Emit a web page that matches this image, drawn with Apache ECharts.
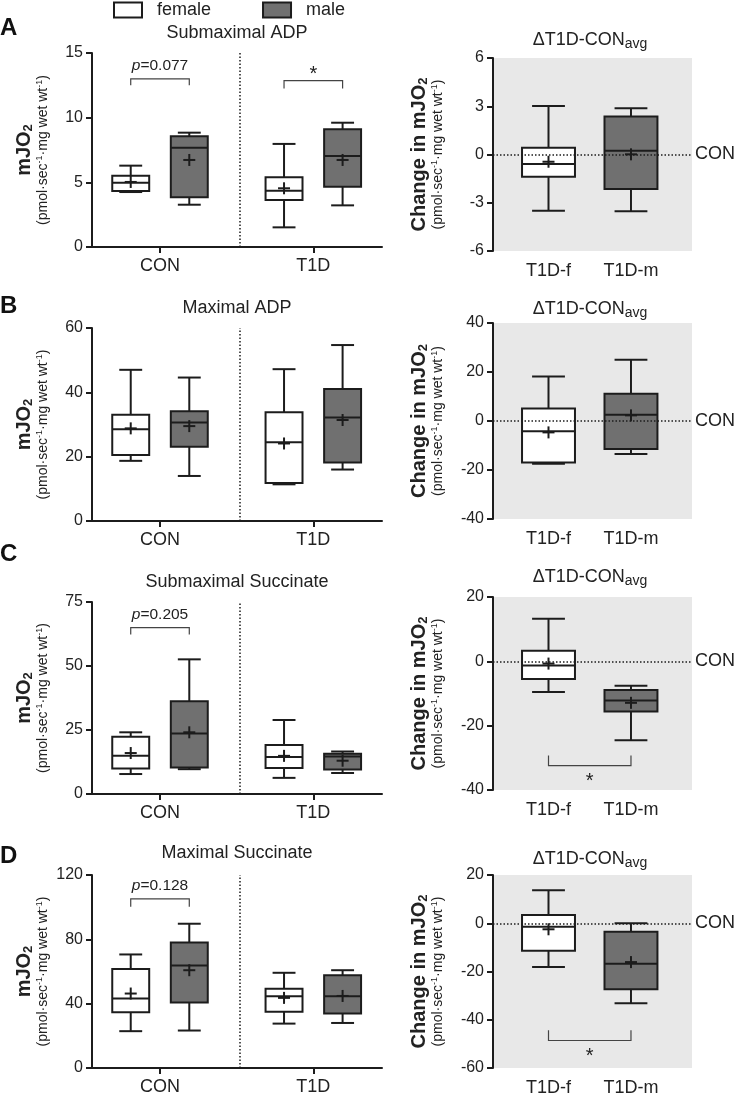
<!DOCTYPE html>
<html><head><meta charset="utf-8">
<script src="https://cdn.jsdelivr.net/npm/echarts@6/dist/echarts.min.js"></script>
<style>html,body{margin:0;padding:0;background:#fff}#c{width:738px;height:1101px}</style>
</head><body><div id="c"></div>
<script>
// ---------- data ----------
const groupLabels = ['CON', 'T1D'];
const deltaLabels = ['T1D-f', 'T1D-m'];
const panelTitles = ['Submaximal ADP', 'Maximal ADP', 'Submaximal Succinate', 'Maximal Succinate'];
const panelLetters = ['A', 'B', 'C', 'D'];
// each box: [low whisker, Q1, median, Q3, high whisker, mean]
const subAdpFemale = [[4.25, 4.33, 4.97, 5.51, 6.29, 5.03], [1.52, 3.63, 4.35, 5.39, 7.97, 4.54]];
const subAdpMale   = [[3.27, 3.84, 7.68, 8.56, 8.84, 6.73], [3.22, 4.66, 7.04, 9.10, 9.61, 6.73]];
const subAdpDeltaF = [-3.49, -1.38, -0.59, 0.42, 3.02, -0.45];
const subAdpDeltaM = [-3.53, -2.15, 0.24, 2.37, 2.87, 0.01];

const maxAdpFemale = [[18.7, 20.5, 28.5, 33.0, 47.0, 28.8], [11.4, 11.85, 24.5, 33.8, 47.2, 24.1]];
const maxAdpMale   = [[14.0, 23.1, 30.6, 34.1, 44.6, 29.5], [16.0, 18.2, 32.2, 41.0, 54.7, 31.4]];
const maxAdpDeltaF = [-17.4, -16.9, -4.2, 5.1, 18.2, -4.65];
const maxAdpDeltaM = [-13.5, -11.4, 2.6, 11.1, 25.0, 2.3];

const subSucFemale = [[7.8, 10.0, 14.9, 22.4, 24.1, 16.0], [6.3, 10.2, 14.5, 19.1, 28.9, 14.9]];
const subSucMale   = [[9.7, 10.4, 23.6, 36.2, 52.6, 24.1], [8.2, 9.6, 14.6, 15.7, 16.6, 13.0]];
const subSucDeltaF = [-9.5, -5.5, -1.3, 3.3, 13.2, -0.7];
const subSucDeltaM = [-24.5, -15.6, -12.2, -8.9, -7.6, -12.9];

const maxSucFemale = [[22.9, 34.7, 43.2, 61.5, 70.6, 46.3], [27.6, 34.9, 44.6, 49.2, 59.2, 43.6]];
const maxSucMale   = [[23.3, 40.7, 63.8, 78.1, 89.7, 60.8], [28.0, 33.9, 44.6, 57.7, 60.8, 44.8]];
const maxSucDeltaF = [-18.1, -11.4, -1.5, 3.4, 13.7, -2.5];
const maxSucDeltaM = [-33.2, -27.4, -16.8, -3.5, 0.0, -16.1];

// y axis ranges: [min, max, step]
const leftYRange  = [[0, 15, 5], [0, 60, 20], [0, 75, 25], [0, 120, 40]];
const rightYRange = [[-6, 6, 3], [-40, 40, 20], [-40, 20, 20], [-60, 20, 20]];
// significance brackets: [grid index, category (0 = across both deltas), bracket level, tip level]
const sigBrackets = [[0, 1, 13.0, 12.5], [0, 2, 12.87, 12.25], [4, 1, 65.0, 62.3], [6, 1, 105.1, 100.3], [5, 0, -32.4, -29.3], [7, 0, -48.6, -44.4]];
const sigLabels = ['p=0.077', '*', 'p=0.205', 'p=0.128', '*', '*'];

// ---------- styling / layout ----------
const FONT = "'Liberation Sans', Arial, Helvetica, sans-serif";
const INK = '#1c1c1c';
const TXT = '#222';
const MALE = '#707070';
const BG = '#e8e8e8';
const femaleSets = [subAdpFemale, maxAdpFemale, subSucFemale, maxSucFemale];
const maleSets = [subAdpMale, maxAdpMale, subSucMale, maxSucMale];
const deltaF = [subAdpDeltaF, maxAdpDeltaF, subSucDeltaF, maxSucDeltaF];
const deltaM = [subAdpDeltaM, maxAdpDeltaM, subSucDeltaM, maxSucDeltaM];
const leftGridPos = [[53, 194], [328, 193], [602, 192], [875, 193]];
const rightGridPos = [[58, 193], [323, 196], [597, 193], [875, 193]];
const letterY = [28, 306, 554, 856];
const titleY = [33, 308, 582, 853];
const rTitleY = [40, 309, 577, 859];

const nameRich = {
  b: {fontSize: 20, fontWeight: 'bold', lineHeight: 22, color: TXT, fontFamily: FONT},
  bs: {fontSize: 13, fontWeight: 'bold', lineHeight: 14, verticalAlign: 'bottom', color: TXT, fontFamily: FONT},
  s: {fontSize: 14, lineHeight: 17, color: TXT, fontFamily: FONT},
  ss: {fontSize: 9, lineHeight: 9, verticalAlign: 'top', color: TXT, fontFamily: FONT}
};
const subLine = '{s|(pmol·sec}{ss|-1}{s|·mg wet wt}{ss|-1}{s|)}';

function boxRenderer(offset, width) {
  return function (params, api) {
    const x = api.value(0) + offset;
    const pt = k => api.coord([x, api.value(k)]);
    const lo = pt(1), q1 = pt(2), md = pt(3), q3 = pt(4), hi = pt(5), mn = pt(6);
    const w = api.size([width, 0])[0];
    const cx = lo[0];
    const cap = w * 0.62;
    const cs = 6;
    const ln = (x1, y1, x2, y2) => ({type: 'line', shape: {x1, y1, x2, y2}, style: {stroke: INK, lineWidth: 2}});
    return {type: 'group', children: [
      ln(cx, hi[1], cx, lo[1]),
      ln(cx - cap / 2, hi[1], cx + cap / 2, hi[1]),
      ln(cx - cap / 2, lo[1], cx + cap / 2, lo[1]),
      {type: 'rect', shape: {x: cx - w / 2, y: q3[1], width: w, height: q1[1] - q3[1]}, style: {fill: api.visual('color'), stroke: INK, lineWidth: 2}},
      ln(cx - w / 2, md[1], cx + w / 2, md[1]),
      ln(cx - cs, mn[1], cx + cs, mn[1]),
      ln(cx, mn[1] - cs, cx, mn[1] + cs)
    ]};
  };
}

function bracketRenderer(labels) {
  return function (params, api) {
    const cat = api.value(0);
    let xa, xb, dir;
    if (cat === 0) { xa = 1; xb = 2; dir = 1; } else { xa = cat - 0.191; xb = cat + 0.191; dir = -1; }
    const a = api.coord([xa, api.value(1)]);
    const b = api.coord([xb, api.value(1)]);
    const ta = api.coord([xa, api.value(2)]);
    const lbl = labels[params.dataIndex];
    const isStar = lbl === '*';
    const text = isStar ? lbl : '{i|p}{n|' + lbl.slice(1) + '}';
    const ty = dir < 0 ? a[1] - (isStar ? 6 : 13) : a[1] + (isStar ? 16 : 13);
    return {type: 'group', children: [
      {type: 'polyline', shape: {points: [[a[0], ta[1]], [a[0], a[1]], [b[0], b[1]], [b[0], ta[1]]]}, style: {stroke: '#444', lineWidth: 1.2, fill: null}},
      {type: 'text', x: (a[0] + b[0]) / 2, y: ty, style: {text: text, fill: TXT, align: 'center', verticalAlign: 'middle', fontFamily: FONT, fontSize: isStar ? 20 : 15.5,
        rich: {i: {fontStyle: 'italic', fontSize: 15.5, fontFamily: FONT, fill: TXT}, n: {fontSize: 15.5, fontFamily: FONT, fill: TXT}}}}
    ]};
  };
}

const grids = [], xAxes = [], yAxes = [], series = [], graphics = [];
for (let p = 0; p < 4; p++) {
  const gl = 2 * p, gr = 2 * p + 1;
  grids.push({left: 92, width: 290, top: leftGridPos[p][0], height: leftGridPos[p][1]});
  grids.push({left: 493, width: 199, top: rightGridPos[p][0], height: rightGridPos[p][1], show: true, backgroundColor: BG, borderWidth: 0});
  xAxes.push({gridIndex: gl, type: 'value', min: 0.5564, max: 2.448,
    axisLine: {show: true, onZero: false, lineStyle: {color: INK, width: 2}},
    axisTick: {show: true, customValues: [1, 2], length: 6, lineStyle: {color: INK, width: 2}},
    axisLabel: {show: true, customValues: [1, 2], formatter: v => groupLabels[Math.round(v) - 1], fontSize: 18, color: TXT, margin: 10, fontFamily: FONT},
    splitLine: {show: false}});
  xAxes.push({gridIndex: gr, type: 'value', min: 0.327, max: 2.74,
    axisLine: {show: false}, axisTick: {show: false},
    axisLabel: {show: true, customValues: [1, 2], formatter: v => deltaLabels[Math.round(v) - 1], fontSize: 18, color: TXT, margin: 11, fontFamily: FONT},
    splitLine: {show: false}});
  const ly = leftYRange[p], ry = rightYRange[p];
  yAxes.push({gridIndex: gl, type: 'value', min: ly[0], max: ly[1], interval: ly[2],
    axisLine: {show: true, onZero: false, lineStyle: {color: INK, width: 2}},
    axisTick: {show: true, length: 6, lineStyle: {color: INK, width: 2}},
    axisLabel: {fontSize: 16, color: TXT, margin: 9, fontFamily: FONT},
    splitLine: {show: false},
    name: '{b|mJO}{bs|2}\n' + subLine, nameLocation: 'middle', nameRotate: 90, nameGap: 40,
    nameTextStyle: {rich: nameRich}});
  yAxes.push({gridIndex: gr, type: 'value', min: ry[0], max: ry[1], interval: ry[2],
    axisLine: {show: true, onZero: false, lineStyle: {color: INK, width: 2}},
    axisTick: {show: true, length: 6, lineStyle: {color: INK, width: 2}},
    axisLabel: {fontSize: 16, color: TXT, margin: 9, fontFamily: FONT},
    splitLine: {show: false},
    name: '{b|Change in mJO}{bs|2}\n' + subLine, nameLocation: 'middle', nameRotate: 90, nameGap: 46,
    nameTextStyle: {rich: nameRich}});

  const enc = {x: 0, y: [1, 2, 3, 4, 5, 6]};
  series.push({type: 'custom', name: 'female', xAxisIndex: gl, yAxisIndex: gl, z: 3, itemStyle: {color: '#ffffff'},
    renderItem: boxRenderer(-0.191, 0.241), encode: enc, data: femaleSets[p].map((d, i) => [i + 1].concat(d))});
  series.push({type: 'custom', name: 'male', xAxisIndex: gl, yAxisIndex: gl, z: 3, itemStyle: {color: MALE},
    renderItem: boxRenderer(0.191, 0.241), encode: enc, data: maleSets[p].map((d, i) => [i + 1].concat(d))});
  series.push({type: 'custom', name: 'female', xAxisIndex: gr, yAxisIndex: gr, z: 3, itemStyle: {color: '#ffffff'},
    renderItem: boxRenderer(0, 0.642), encode: enc, data: [[1].concat(deltaF[p])]});
  series.push({type: 'custom', name: 'male', xAxisIndex: gr, yAxisIndex: gr, z: 3, itemStyle: {color: MALE},
    renderItem: boxRenderer(0, 0.642), encode: enc, data: [[2].concat(deltaM[p])]});
  // divider between CON and T1D
  series.push({type: 'line', xAxisIndex: gl, yAxisIndex: gl, data: [], z: 4,
    markLine: {silent: true, symbol: 'none', animation: false, label: {show: false},
      lineStyle: {color: INK, width: 1.5, type: [1.5, 2]}, data: [{xAxis: 1.52}]}});
  // CON reference line in delta panels
  series.push({type: 'line', xAxisIndex: gr, yAxisIndex: gr, data: [], z: 6,
    markLine: {silent: true, symbol: 'none', animation: false,
      label: {show: true, position: 'end', formatter: 'CON', fontSize: 18, color: TXT, distance: 3, fontFamily: FONT},
      lineStyle: {color: INK, width: 1.5, type: [1.5, 2]}, data: [{yAxis: 0}]}});

  graphics.push({type: 'text', x: 0, y: letterY[p], style: {text: panelLetters[p], fill: '#111', fontFamily: FONT, fontWeight: 'bold', fontSize: 24, align: 'left', verticalAlign: 'middle', textAlign: 'left', textVerticalAlign: 'middle'}});
  graphics.push({type: 'text', x: 237, y: titleY[p], style: {text: panelTitles[p], fill: TXT, fontFamily: FONT, fontSize: 18, align: 'center', verticalAlign: 'middle', textAlign: 'center', textVerticalAlign: 'middle'}});
  graphics.push({type: 'text', x: 590, y: rTitleY[p], style: {text: '{m|ΔT1D-CON}{s|avg}', align: 'center', verticalAlign: 'middle', textAlign: 'center', textVerticalAlign: 'middle',
    rich: {m: {fontSize: 18, lineHeight: 22, fontFamily: FONT, fill: TXT}, s: {fontSize: 14, lineHeight: 14, verticalAlign: 'bottom', fontFamily: FONT, fill: TXT}}}});
}
// significance brackets per grid
for (let g = 0; g < 8; g++) {
  const idx = sigBrackets.map((b, i) => i).filter(i => sigBrackets[i][0] === g);
  if (!idx.length) continue;
  series.push({type: 'custom', xAxisIndex: g, yAxisIndex: g, z: 5, silent: true,
    renderItem: bracketRenderer(idx.map(i => sigLabels[i])),
    encode: {x: 0, y: [1, 2]}, data: idx.map(i => sigBrackets[i].slice(1))});
}

const chart = echarts.init(document.getElementById('c'));
chart.setOption({
  animation: false,
  textStyle: {fontFamily: FONT},
  legend: {left: 113, top: 1, padding: 0, itemWidth: 28, itemHeight: 15, itemGap: 51, selectedMode: false,
    textStyle: {fontSize: 18, color: TXT, padding: [0, 0, 0, 10], fontFamily: FONT},
    data: [{name: 'female', icon: 'rect', itemStyle: {color: '#ffffff', borderColor: INK, borderWidth: 2}},
           {name: 'male', icon: 'rect', itemStyle: {color: MALE, borderColor: INK, borderWidth: 2}}]},
  grid: grids, xAxis: xAxes, yAxis: yAxes, series: series, graphic: graphics
});
</script></body></html>
